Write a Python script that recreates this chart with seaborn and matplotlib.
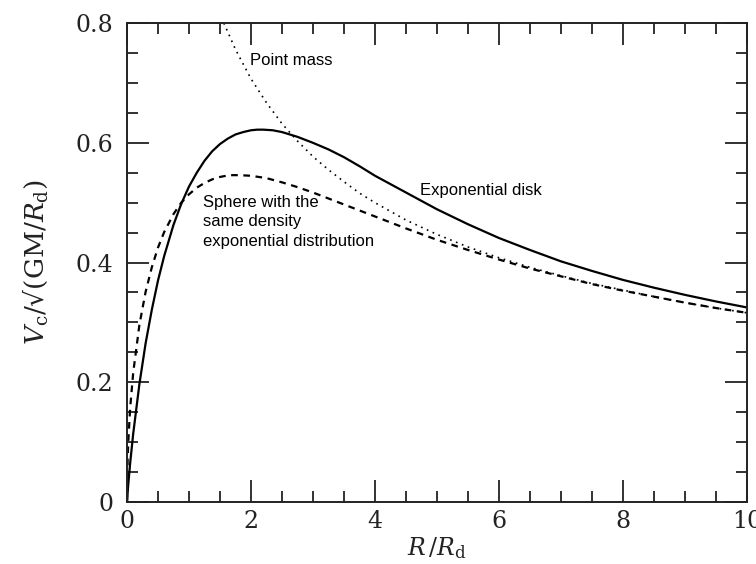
import numpy as np
import matplotlib
matplotlib.use("Agg")
import matplotlib.pyplot as plt
import seaborn as sns
from matplotlib.ticker import MultipleLocator

# values
r_disk = [0, 0.02, 0.05, 0.1, 0.2, 0.3, 0.4, 0.5, 0.6, 0.75, 0.875, 1.0, 1.125, 1.25,
          1.375, 1.5, 1.625, 1.75, 1.875, 2.0, 2.1, 2.2, 2.35, 2.5, 2.75, 3.0, 3.25,
          3.5, 3.75, 4.0, 4.5, 5.0, 5.5, 6.0, 6.5, 7.0, 7.5, 8.0, 8.5, 9.0, 9.5, 10.0]
v_disk = [0, 0.029, 0.064, 0.114, 0.197, 0.265, 0.321, 0.370, 0.411, 0.463, 0.498,
          0.527, 0.550, 0.570, 0.586, 0.598, 0.607, 0.614, 0.618, 0.621, 0.622, 0.622,
          0.621, 0.618, 0.610, 0.600, 0.589, 0.576, 0.561, 0.545, 0.517, 0.489, 0.464,
          0.441, 0.421, 0.402, 0.386, 0.371, 0.358, 0.346, 0.335, 0.325]

r_sphere = [0, 0.01, 0.02, 0.05, 0.1, 0.2, 0.3, 0.4, 0.5, 0.6, 0.75, 0.875, 1.0,
            1.125, 1.25, 1.375, 1.5, 1.65, 1.8, 2.0, 2.25, 2.5, 2.75, 3.0, 3.25, 3.5,
            3.75, 4.0, 4.5, 5.0, 5.5, 6.0, 6.5, 7.0, 7.5, 8.0, 8.5, 9.0, 9.5, 10.0]
v_sphere = [0, 0.071, 0.099, 0.156, 0.216, 0.296, 0.351, 0.392, 0.425, 0.451, 0.481,
            0.500, 0.514, 0.525, 0.533, 0.539, 0.543, 0.546, 0.546, 0.545, 0.541,
            0.534, 0.526, 0.517, 0.507, 0.497, 0.487, 0.477, 0.457, 0.438, 0.421,
            0.405, 0.390, 0.377, 0.364, 0.353, 0.343, 0.333, 0.324, 0.316]

r_point = [1.5625, 1.75, 2.0, 2.25, 2.5, 2.75, 3.0, 3.25, 3.5, 3.75, 4.0, 4.5, 5.0,
           5.5, 6.0, 6.5, 7.0, 7.5, 8.0, 8.5, 9.0, 9.5, 10.0]
v_point = [0.800, 0.756, 0.707, 0.667, 0.632, 0.603, 0.577, 0.555, 0.535, 0.516,
           0.500, 0.471, 0.447, 0.426, 0.408, 0.392, 0.378, 0.365, 0.354, 0.343,
           0.333, 0.324, 0.316]

sns.set_theme(style="ticks")
plt.rcParams["font.family"] = ["DejaVu Serif"]
plt.rcParams["mathtext.fontset"] = "dejavuserif"

fig = plt.figure(figsize=(7.56, 5.64), dpi=100)
ax = fig.add_axes([0.168, 0.110, 0.820, 0.849])

sns.lineplot(x=r_disk, y=v_disk, ax=ax, color="black", lw=1.6, estimator=None, sort=False)
sns.lineplot(x=r_sphere, y=v_sphere, ax=ax, color="black", lw=1.6, estimator=None,
             sort=False, linestyle=(0, (3, 2.5)))
sns.lineplot(x=r_point, y=v_point, ax=ax, color="black", lw=1.2, estimator=None,
             sort=False, linestyle=(0, (1, 2.8)))

ax.set_xlim(0, 10)
ax.set_ylim(0, 0.8)
ax.xaxis.set_major_locator(MultipleLocator(2))
ax.xaxis.set_minor_locator(MultipleLocator(0.5))
ax.yaxis.set_major_locator(MultipleLocator(0.2))
ax.yaxis.set_minor_locator(MultipleLocator(0.05))
ax.xaxis.set_major_formatter(plt.FuncFormatter(lambda v, p: f"{v:g}"))
ax.yaxis.set_major_formatter(plt.FuncFormatter(lambda v, p: f"{v:g}"))

ax.tick_params(which="both", direction="in", top=True, right=True, width=1.3,
               labelsize=17, color="#222222", labelcolor="#222222")
ax.tick_params(which="major", length=16)
ax.tick_params(axis="y", which="major", pad=10)
ax.tick_params(axis="x", which="major", pad=6)
ax.tick_params(which="minor", length=8)
for s in ax.spines.values():
    s.set_linewidth(1.4)
    s.set_color("#222222")

ax.set_xlabel(r"$R\,/R_{\rm d}$", fontsize=17, labelpad=1, color="#222222")
ax.set_ylabel(r"$V_{\rm c}/$" + "√" + r"$(\mathrm{GM}/R_{\rm d})$", fontsize=19,
              labelpad=18, color="#222222")

txt = dict(family=["Liberation Sans", "DejaVu Sans"], fontsize=12, color="black")
ax.text(1.98, 0.738, "Point mass", va="center", ha="left", **txt)
ax.text(4.73, 0.521, "Exponential disk", va="center", ha="left", **txt)
ax.text(1.23, 0.468, "Sphere with the\nsame density\nexponential distribution",
        va="center", ha="left", linespacing=1.38, **txt)

fig.savefig("out.png", dpi=100)
